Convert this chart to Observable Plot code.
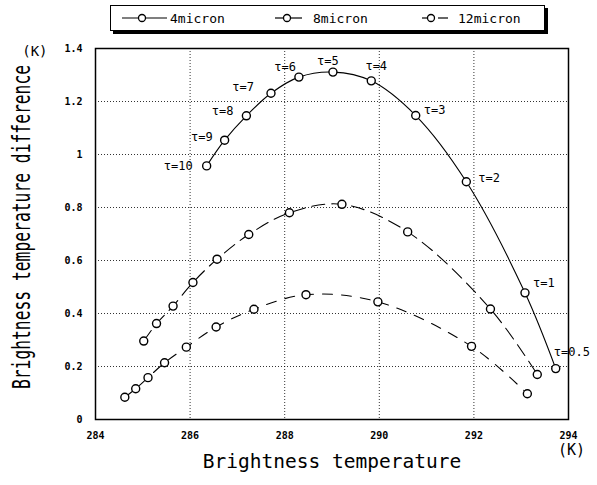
<!DOCTYPE html>
<html>
<head>
<meta charset="utf-8">
<script src="https://cdn.jsdelivr.net/npm/d3@7"></script>
<script src="https://cdn.jsdelivr.net/npm/@observablehq/plot@0.6"></script>
<style>
  html, body { margin: 0; padding: 0; background: #fff; }
  #legend { position: relative; width: 597px; height: 40px; font-family: "DejaVu Sans Mono", monospace; font-size: 13px; }
  #legend .box { position: absolute; left: 110px; top: 5px; width: 433px; height: 24px; border: 1px solid #000; box-shadow: 3px 3px 0 #000; background: #fff; }
  #legend .item { position: absolute; top: 0; height: 24px; display: flex; align-items: center; }
  #legend svg { display: block; }
</style>
</head>
<body>
<div id="legend"><div class="box"></div></div>
<div id="chart"></div>
<script>
// ---- data ----
const seriesNames = ["4micron", "8micron", "12micron"];

const tau4 = [10, 9, 8, 7, 6, 5, 4, 3, 2, 1, 0.5];
const temp4 = [286.35, 286.73, 287.19, 287.71, 288.30, 289.02, 289.83, 290.77, 291.84, 293.08, 293.73];
const diff4 = [0.957, 1.054, 1.146, 1.231, 1.292, 1.311, 1.278, 1.147, 0.897, 0.478, 0.192];

const temp8 = [285.02, 285.29, 285.64, 286.06, 286.57, 287.24, 288.10, 289.21, 290.60, 292.35, 293.34];
const diff8 = [0.296, 0.362, 0.428, 0.517, 0.605, 0.698, 0.780, 0.812, 0.708, 0.417, 0.170];

const temp12 = [284.62, 284.85, 285.11, 285.46, 285.92, 286.55, 287.35, 288.45, 289.97, 291.95, 293.13];
const diff12 = [0.084, 0.116, 0.158, 0.214, 0.273, 0.349, 0.416, 0.471, 0.444, 0.276, 0.097];

const xTicks = [284, 286, 288, 290, 292, 294];
const yTicks = [0, 0.2, 0.4, 0.6, 0.8, 1, 1.2, 1.4];

const xLabel = "Brightness temperature";
const yLabel = "Brightness temperature difference";
const unitLabel = "(K)";

// ---- build tables ----
const temps = [temp4, temp8, temp12];
const diffs = [diff4, diff8, diff12];
const rows = [];
seriesNames.forEach((s, si) => {
  temps[si].forEach((t, i) => rows.push({series: s, t, d: diffs[si][i], tau: si === 0 ? tau4[i] : null}));
});
const tauRows = rows.filter(r => r.tau !== null);

// label placement for the tau annotations (styling only)
const labelOffsets = [
  {dx: -14, dy: 0, a: "end"}, {dx: -12, dy: -3, a: "end"}, {dx: -13, dy: -5, a: "end"},
  {dx: -17, dy: -6, a: "end"}, {dx: -3, dy: -10, a: "end"}, {dx: -5, dy: -11, a: "middle"},
  {dx: 5, dy: -15, a: "middle"}, {dx: 8, dy: -5, a: "start"}, {dx: 12, dy: -4, a: "start"},
  {dx: 8, dy: -10, a: "start"}, {dx: -2, dy: -16, a: "start"}
];

const dashes = {"4micron": null, "8micron": "13,7", "12micron": "10,9"};
const mono = "'DejaVu Sans Mono', monospace";

const lineMarks = seriesNames.map(s => Plot.line(rows.filter(r => r.series === s), {
  x: "t", y: "d", curve: "catmull-rom", stroke: "#000", strokeWidth: 1.1,
  strokeDasharray: dashes[s]
}));

const tauMarks = tauRows.map((r, i) => Plot.text([r], {
  x: "t", y: "d", text: d => "τ=" + d.tau,
  dx: labelOffsets[i].dx, dy: labelOffsets[i].dy, textAnchor: labelOffsets[i].a,
  fontSize: 12, fontFamily: mono, fill: "#000"
}));

const chart = Plot.plot({
  width: 597, height: 445,
  marginLeft: 95, marginRight: 29, marginTop: 8, marginBottom: 66,
  x: {domain: [284, 294], ticks: xTicks},
  y: {domain: [0, 1.4], ticks: yTicks},
  style: {background: "#fff", color: "#000", overflow: "visible"},
  marks: [
    Plot.gridX(xTicks, {stroke: "#000", strokeOpacity: 0.8, strokeDasharray: "1,2", strokeWidth: 1}),
    Plot.gridY(yTicks, {stroke: "#000", strokeOpacity: 0.8, strokeDasharray: "1,2", strokeWidth: 1}),
    Plot.frame({stroke: "#000", strokeWidth: 1.5}),
    Plot.axisX({ticks: xTicks, tickSize: 0, tickPadding: 12, label: null, fontSize: 10, fontWeight: "bold", fontFamily: mono}),
    Plot.axisY({ticks: yTicks, tickSize: 0, tickPadding: 13, label: null, fontSize: 10, fontWeight: "bold", fontFamily: mono, tickFormat: d => String(d)}),
    ...lineMarks,
    Plot.dot(rows, {x: "t", y: "d", r: 4, fill: "#fff", stroke: "#000", strokeWidth: 1.4}),
    ...tauMarks,
    Plot.text([unitLabel], {frameAnchor: "top-left", text: d => d, dx: -48, dy: -2, textAnchor: "end", fontSize: 14, fontFamily: mono}),
    Plot.text([unitLabel], {frameAnchor: "bottom-right", text: d => d, dx: 3, dy: 35, textAnchor: "middle", fontSize: 15, fontFamily: mono}),
    Plot.text([xLabel], {frameAnchor: "bottom", text: d => d, dy: 48, fontSize: 19.5, fontFamily: mono}),
    Plot.text([yLabel], {frameAnchor: "left", text: d => d, dx: -73, dy: -7, rotate: -90, textAnchor: "middle", fontSize: 24, fontFamily: mono})
  ]
});
document.getElementById("chart").appendChild(chart);

// compress the tall, narrow y-axis label along its baseline (keeps its centre)
d3.select(chart).selectAll("text").filter(function() { return this.textContent === yLabel; })
  .each(function() {
    const t = this.getAttribute("transform") || "";
    this.setAttribute("transform", t + " scale(0.68,1)");
  });

// ---- legend ----
const legendItems = [
  {name: seriesNames[0], left: 122, lineW: 45, cx: 20, gap: 3},
  {name: seriesNames[1], left: 275, lineW: 27, cx: 12, gap: 11},
  {name: seriesNames[2], left: 422, lineW: 26, cx: 9, gap: 10}
];
const box = document.querySelector("#legend .box");
legendItems.forEach(it => {
  const div = document.createElement("div");
  div.className = "item";
  div.style.left = (it.left - 111) + "px";
  const s = d3.create("svg").attr("width", it.lineW).attr("height", 12);
  if (it.name === "4micron") {
    s.append("line").attr("x1", 0).attr("x2", it.lineW).attr("y1", 6).attr("y2", 6).attr("stroke", "#000").attr("stroke-width", 1.2);
  } else {
    s.append("line").attr("x1", 0).attr("x2", it.cx - 3).attr("y1", 6).attr("y2", 6).attr("stroke", "#000").attr("stroke-width", 1.2);
    s.append("line").attr("x1", it.cx + (it.name === "12micron" ? 7 : 4)).attr("x2", it.lineW).attr("y1", 6).attr("y2", 6).attr("stroke", "#000").attr("stroke-width", 1.2);
  }
  s.append("circle").attr("cx", it.cx).attr("cy", 6).attr("r", 3.5).attr("fill", "#fff").attr("stroke", "#000").attr("stroke-width", 1.3);
  div.appendChild(s.node());
  const sp = document.createElement("span");
  sp.textContent = it.name;
  sp.style.marginLeft = it.gap + "px";
  div.appendChild(sp);
  box.appendChild(div);
});
</script>
</body>
</html>
